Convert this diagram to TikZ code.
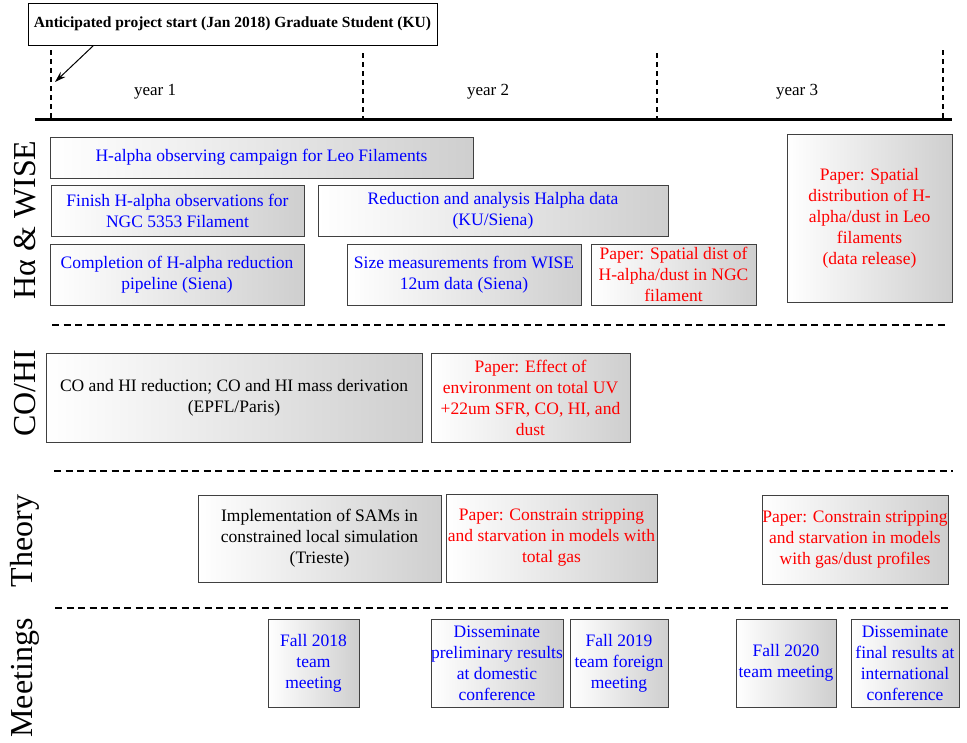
\documentclass[tikz,border=0pt]{standalone}
\usepackage{fontspec}
\setmainfont{Liberation Serif}
\usetikzlibrary{arrows.meta, shadows}

\begin{document}
\begin{tikzpicture}[x=1pt, y=-1pt,
		task/.style={draw=black!75, line width=1pt, left color=white, right color=black!19, align=center, inner sep=0pt,
			font=\fontsize{17.5}{21}\selectfont, drop shadow={shadow xshift=1pt, shadow yshift=-1pt, opacity=0.25}},
		obs/.style={task, text=blue},
		paper/.style={task, text=red},
		lane/.style={rotate=90, font=\fontsize{32}{36}\selectfont},
		lanesep/.style={line width=2pt, dash pattern=on 7pt off 4.5pt},
		yeartick/.style={line width=2pt, dash pattern=on 5pt off 4pt}]
			\useasboundingbox (0,0) rectangle (967,742);
			% timeline
			\node[draw, line width=0.8pt, fill=white, minimum width=409pt, minimum height=42pt,
				font=\bfseries\fontsize{15.5}{18}\selectfont] (kickoff) at (232.5,24) {Anticipated project start (Jan 2018) Graduate Student (KU)};
			\coordinate (start) at (55,82);
			\draw[-{Stealth[length=11pt,width=7pt]}, line width=1pt] ([xshift=66pt]kickoff.south west) -- (start);
			\draw[line width=3pt] (35,119) -- (952,119);
			\draw[yeartick] (51,50) -- (51,118);
			\draw[yeartick] (363,53) -- (363,118);
			\draw[yeartick] (657,53) -- (657,118);
			\draw[yeartick] (943,50) -- (943,118);
			\node[font=\fontsize{17}{21}\selectfont] (y1) at (155,92) {year 1};
			\node[font=\fontsize{17}{21}\selectfont] (y2) at (488,92) {year 2};
			\node[font=\fontsize{17}{21}\selectfont] (y3) at (797,92) {year 3};
			% lanes
			\node[lane] (halpha) at (25,220) {Hα \& WISE};
			\node[lane] (cohi) at (25,393) {CO/HI};
			\node[lane] (theory) at (25,541) {Theory};
			\node[lane] (meetings) at (25,678) {Meetings};
			\draw[lanesep] (52,325) -- (948,325);
			\draw[lanesep] (54,471) -- (953,471);
			\draw[lanesep] (55,608) -- (952,608);
			% H-alpha & WISE
			\node[obs, minimum width=423pt, minimum height=41pt] (campaign) at (261.5,157.5) {H-alpha observing campaign for Leo Filaments};
			\node[obs, minimum width=253pt, minimum height=51pt] (finish) at (177.5,210.5) {Finish H-alpha observations for\\NGC 5353 Filament};
			\node[obs, minimum width=350pt, minimum height=51pt] (reduce) at (493,210.5) {Reduction and analysis Halpha data\\(KU/Siena)};
			\node[obs, minimum width=254pt, minimum height=61pt] (pipeline) at (177,274.5) {Completion of H-alpha reduction\\pipeline (Siena)};
			\node[obs, minimum width=234pt, minimum height=61pt] (wise) at (464,274.5) {Size measurements from WISE\\12um data (Siena)};
			\node[paper, minimum width=165pt, minimum height=61pt] (pngc) at (673.5,274.5) {Paper: Spatial dist of\\H-alpha/dust in NGC\\filament};
			\node[paper, minimum width=165pt, minimum height=168pt] (pleo) at (869.5,218) {Paper: Spatial\\distribution of H-\\alpha/dust in Leo\\filaments\\(data release)};
			% CO/HI
			\node[task, minimum width=376pt, minimum height=89pt] (comass) at (234,397.5) {CO and HI reduction; CO and HI mass derivation\\(EPFL/Paris)};
			\node[paper, minimum width=199pt, minimum height=89pt] (puv) at (530.5,397.5) {Paper: Effect of\\environment on total UV\\+22um SFR, CO, HI, and\\dust};
			% Theory
			\node[task, minimum width=243pt, minimum height=87pt] (sams) at (319.5,538.5) {Implementation of SAMs in\\constrained local simulation\\(Trieste)};
			\node[paper, minimum width=211pt, minimum height=88pt] (pgas) at (551.5,538) {Paper: Constrain stripping\\and starvation in models with\\total gas};
			\node[paper, minimum width=186pt, minimum height=89pt] (pprof) at (855,539.5) {Paper: Constrain stripping\\and starvation in models\\with gas/dust profiles};
			% Meetings
			\node[obs, minimum width=91pt, minimum height=88pt] (fall18) at (313.5,663) {Fall 2018\\team\\meeting};
			\node[obs, minimum width=132pt, minimum height=88pt] (dprelim) at (497,663) {Disseminate\\preliminary results\\at domestic\\conference};
			\node[obs, minimum width=98pt, minimum height=88pt] (fall19) at (619,663) {Fall 2019\\team foreign\\meeting};
			\node[obs, minimum width=100pt, minimum height=88pt] (fall20) at (786,663) {Fall 2020\\team meeting};
			\node[obs, minimum width=108pt, minimum height=88pt] (dfinal) at (905,663) {Disseminate\\final results at\\international\\conference};
		\end{tikzpicture}
\end{document}
